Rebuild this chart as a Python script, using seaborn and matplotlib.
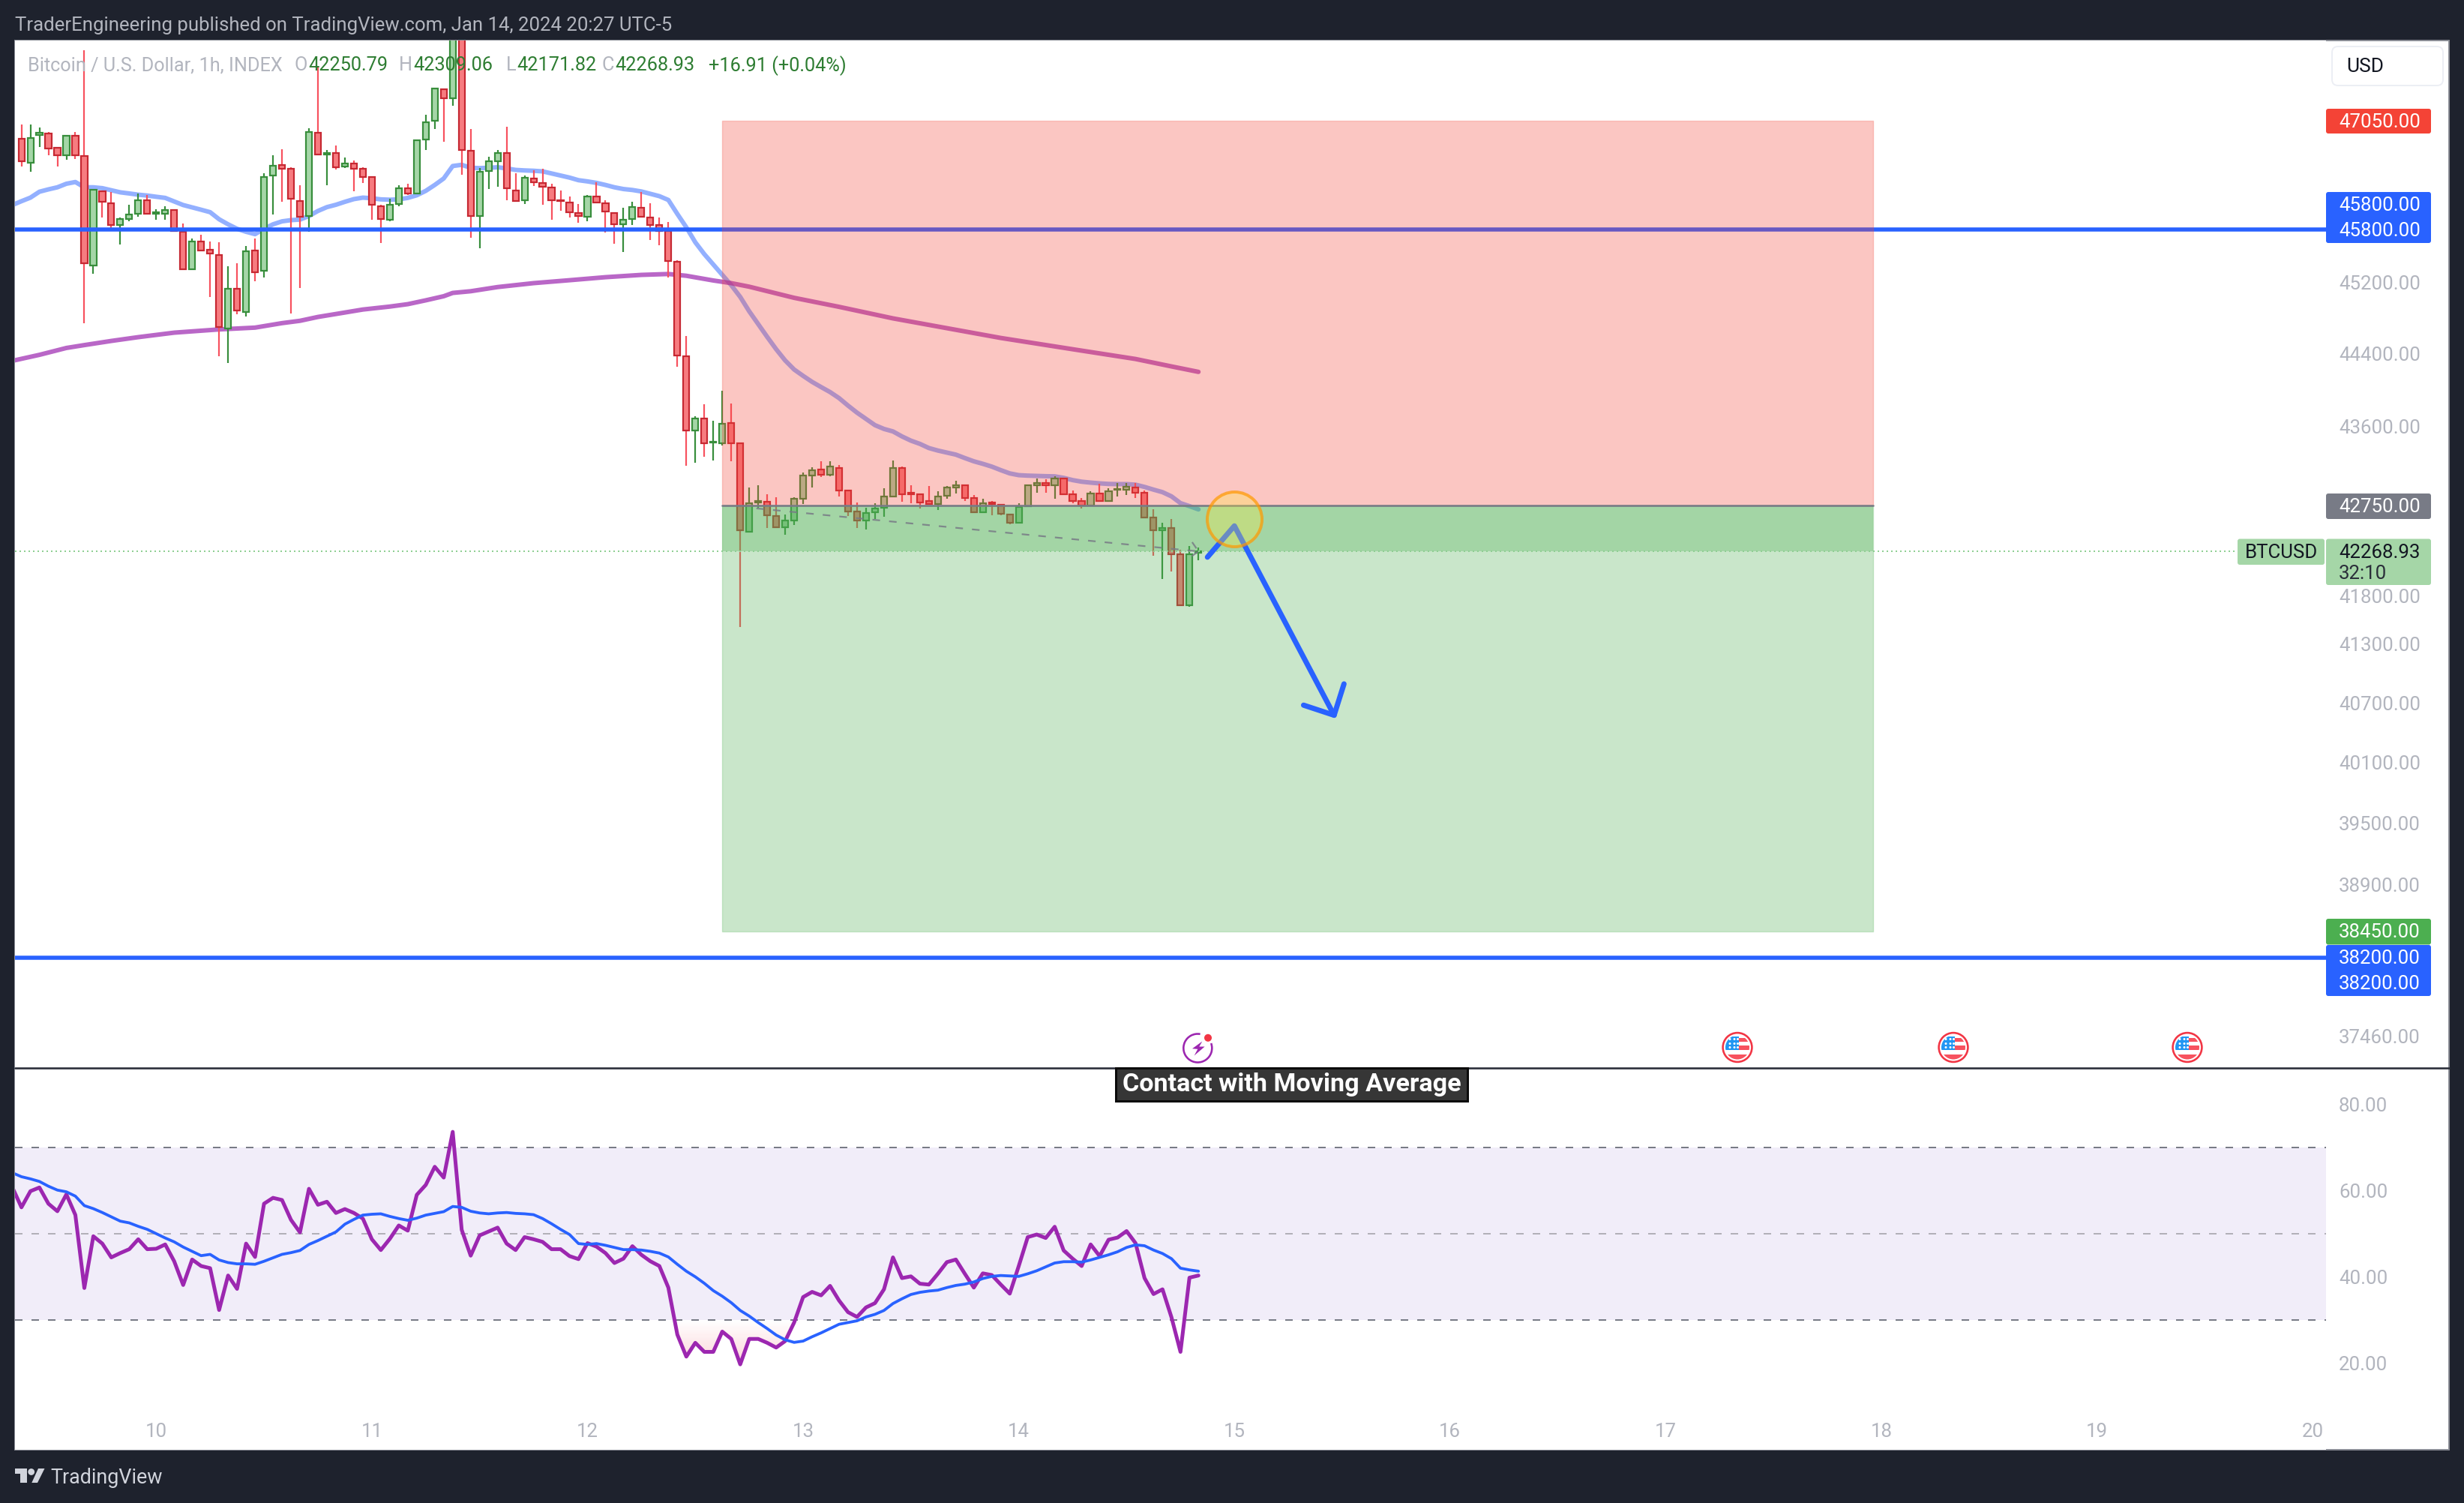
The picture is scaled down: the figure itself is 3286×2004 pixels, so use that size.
import numpy as np
import seaborn as sns
import matplotlib
matplotlib.use("Agg")
import matplotlib.pyplot as plt
from matplotlib.patches import Rectangle, Circle, Polygon, FancyBboxPatch, Arc
from matplotlib.transforms import Affine2D
from matplotlib.ticker import NullLocator

# ---------- data ----------
open_ = [46846,46568,46884,46908,46735,46648,46874,46645,45389,46236,
 46096,45850,45920,45977,46130,45977,45977,46015,45770,45348,
 45661,45567,45506,44684,45125,44868,45557,45325,46420,46536,
 46495,46124,45947,46915,46660,46678,46519,46553,46495,46399,
 46066,45906,46086,46270,46205,46832,47054,47426,47315,48200,
 46702,45947,46468,46585,46681,46243,46127,46385,46331,46277,
 46134,46107,45984,45940,46175,46096,45984,45855,45916,46049,
 45933,45848,45777,45429,44372,43555,43691,43431,43423,43644,
 43417,42475,42786,42789,42642,42518,42597,42821,43077,43134,
 43085,43158,42909,42690,42597,42677,42727,42845,43150,42885,
 42869,42797,42765,42853,42943,42970,42829,42677,42783,42757,
 42658,42571,42743,42970,42989,42970,43045,42869,42797,42751,
 42877,42802,42917,42917,42946,42885,42629,42486,42510,42240,
 41704,42250.79]
high = [47006,47006,46971,46919,46745,46884,46919,47891,46256,46246,
 46229,45933,46076,46212,46195,46025,46059,46025,45865,45691,
 45736,45661,45647,45382,45409,45610,45691,46444,46650,46719,
 46512,46307,46964,47687,46709,46763,46622,46588,46509,46405,
 46076,46151,46300,46321,46832,47120,47440,47429,48300,48350,
 46953,46502,46630,46709,46981,46440,46416,46475,46492,46321,
 46239,46171,46086,46192,46341,46134,45991,46049,46117,46229,
 46093,45933,45882,45443,44595,43712,43844,43663,43991,43855,
 43428,42943,42970,42871,42839,42655,42837,43109,43161,43226,
 43226,43185,42909,42783,42730,42775,42935,43234,43172,42967,
 42879,42959,42903,42959,43015,42975,42863,42823,42799,42765,
 42664,42775,42975,43040,43037,43064,43050,42911,42831,42903,
 42983,42935,42989,42989,42991,42909,42711,42568,42608,42280,
 42327,42309.06]
low = [46520,46461,46745,46652,46520,46596,46607,44740,45293,45933,
 45797,45627,45889,45940,45974,45906,45906,45770,45348,45348,
 45560,45030,44372,44300,44838,44815,45211,45248,45965,46117,
 44848,45131,45770,46660,46304,46485,46502,46236,46331,45906,
 45640,45892,46066,46195,46205,46710,46960,46806,47233,46423,
 45702,45583,46263,46287,46134,46117,46086,46297,46076,45906,
 46008,45930,45872,45889,46096,45763,45634,45540,45845,45940,
 45678,45614,45255,44257,43179,43212,43274,43234,43396,43225,
 41479,42464,42730,42515,42518,42444,42544,42770,42943,43058,
 43064,42850,42637,42512,42499,42610,42632,42837,42794,42775,
 42722,42770,42704,42823,42882,42802,42669,42672,42650,42650,
 42557,42571,42743,42890,42887,42823,42863,42775,42720,42751,
 42791,42802,42847,42863,42831,42629,42222,41978,42056,41704,
 41689,42171.82]
close = [46579,46856,46912,46728,46648,46874,46648,45409,46256,46110,
 45850,45916,45967,46127,45974,45991,46022,45777,45348,45661,
 45560,45520,44693,45125,44878,45547,45315,46399,46533,46498,
 46144,45940,46926,46660,46681,46516,46553,46498,46402,46076,
 45913,46079,46270,46212,46829,47037,47433,47315,48200,46709,
 45947,46461,46581,46681,46273,46124,46392,46334,46283,46127,
 46124,45994,45950,46175,46103,46001,45855,45909,46056,45940,
 45848,45780,45436,44378,43562,43693,43423,43441,43636,43423,
 42486,42778,42797,42645,42518,42597,42823,43077,43126,43085,
 43174,42909,42685,42597,42669,42717,42845,43150,42869,42874,
 42783,42770,42850,42948,42970,42829,42677,42773,42770,42661,
 42571,42735,42970,42989,42970,43045,42869,42797,42751,42877,
 42802,42901,42925,42951,42885,42629,42486,42510,42240,41704,
 42240,42268.93]

ema_fast = [46076,46120,46161,46229,46256,46280,46321,46341,46280,46280,46270,
 46246,46222,46209,46195,46185,46171,46158,46117,46076,46049,
 46022,45994,45913,45855,45804,45770,45743,45804,45855,45889,
 45903,45909,45950,46008,46052,46079,46113,46144,46161,46154,
 46141,46137,46141,46158,46188,46239,46307,46382,46526,46540,
 46505,46502,46505,46512,46498,46481,46475,46471,46464,46440,
 46416,46392,46362,46348,46331,46307,46280,46260,46249,46232,
 46205,46178,46134,45974,45821,45650,45516,45399,45281,45165,
 45033,44872,44730,44587,44450,44326,44226,44156,44090,44033,
 43978,43912,43830,43753,43685,43617,43576,43549,43495,43449,
 43414,43369,43342,43320,43298,43261,43226,43199,43169,43131,
 43096,43077,43072,43069,43066,43064,43048,43024,43007,42997,
 42989,42983,42981,42981,42975,42951,42922,42895,42850,42778,
 42746,42711]
ma_slow_bar = [-1,2,5,7,10,13,17,22,26,29,31,33,35,38,41,43,45,47,48,50,53,57,61,65,69,72,
 74,77,79,81,86,91,97,102,109,117,124,128,131]
ma_slow = [44322,44388,44464,44496,44542,44584,44634,44670,44690,44740,44766,44809,44842,
 44892,44925,44952,44995,45041,45078,45097,45144,45188,45221,45255,45281,45291,
 45271,45218,45188,45148,45023,44922,44793,44702,44575,44450,44342,44260,44200]

rsi = [60.7,56.1,59.85,60.7,56.95,55.2,59.1,54.34,37.4,49.4,47.7,
 44.5,45.5,46.4,48.7,46.4,46.5,47.5,43.6,38.1,44,
 42.5,42,32.3,40.3,37.2,47.7,44.6,56.95,58.3,57.8,
 53.2,50.3,60.4,56.7,57.4,54.8,55.7,54.8,53.5,48.7,
 46.2,48.8,51.9,50.7,59,61.3,65.5,63,73.6,50.9,
 44.9,49.6,50.5,51.4,47.7,46.2,49.2,48.7,48.1,46.4,
 46.4,44.8,44.1,47.8,47,45.5,43.2,44.2,47.1,45.1,
 43.6,42.5,37.5,26.6,21.5,24.7,22.6,22.6,27.3,25.6,
 19.7,25.6,25.6,24.7,23.6,25.1,29.4,35.3,36.5,35.7,
 37.9,34.5,31.8,30.7,32.9,33.9,37.1,44.5,39.7,40.1,
 38.4,38.2,40.7,43.4,44,40.7,37.5,40.8,40.4,38.2,
 36.1,42.5,49.2,49.8,49,51.6,46.1,44.2,42.5,47.5,
 44.8,48.6,49.1,50.6,47.8,39.7,36,37.1,30.6,22.6,
 39.8,40.3]
rsi_ma = [64.1,63.2,62.7,62.1,61,60.1,59.7,58.7,56.5,55.8,54.9,
 53.9,52.9,52.5,51.7,51,50,49,48.1,46.9,45.9,
 44.9,45.2,43.9,43.3,43,43,42.9,43.6,44.4,45.2,
 45.6,46.1,47.5,48.4,49.4,50.4,52.2,53.3,54.3,54.5,
 54.6,54,53.5,53.1,53.6,54.3,54.7,55.1,56.3,56.1,
 55.2,54.8,54.6,54.8,54.9,54.7,54.6,54.4,53.5,52.3,
 51,49.8,47.7,47.5,47.7,47.3,46.8,46.3,46.3,46.2,
 45.9,45.5,44.6,42.9,41.3,40,38.5,36.8,35.5,34,
 32.2,30.9,29.4,28,26.5,25.4,24.8,25.1,26.1,27,
 28,29,29.4,29.8,30.7,31.3,32.2,33.8,34.9,35.9,
 36.4,36.7,36.9,37.5,38,38.3,38.8,39.6,40.1,40.3,
 40.2,40.1,40.7,41.4,42.3,43.2,43.5,43.5,43.4,43.9,
 44.5,45.1,45.8,46.8,47.4,47.2,46.2,45.4,44.2,42,
 41.6,41.3]

price_ticks = [45200,44400,43600,41800,41300,40700,40100,39500,38900,37460]
price_labels = ["45200.00","44400.00","43600.00","41800.00","41300.00","40700.00",
                "40100.00","39500.00","38900.00","37460.00"]
rsi_ticks = [80,60,40,20]
rsi_labels = ["80.00","60.00","40.00","20.00"]
day_bars = [15,39,63,87,111,135,159,183,207,231,255]
day_labels = ["10","11","12","13","14","15","16","17","18","19","20"]

last_price = 42268.93
entry = 42750
stop = 47050
target = 38450
levels = [45800, 38200]
pos_start, pos_end = 78, 206.1
proj_bar = [81.8, 131]
proj_price = [42722, 42267]
proj_head_bar = [130.3, 131, 130.2]
proj_head_price = [42364, 42267, 42213]
arrow_bar = [132, 135, 146.1]
arrow_price = [42206, 42536, 40576]
head_bar = [142.7, 146.1, 147.2]
head_price = [40678, 40576, 40894]
circle_bar, circle_price = 135, 42610

# ---------- palette ----------
DARK = "#1e222d"
GREY = "#b2b5be"
BLUE = "#2962ff"
PURPLE = "#9c27b0"
UP_FILL, UP_EDGE = "#a5d6a7", "#388e3c"
DN_FILL, DN_EDGE, DN_WICK = "#f77c80", "#c62832", "#f7525f"

# ---------- theme and figure ----------
sns.set_theme(style="white")
plt.rcParams["font.family"] = ["Roboto", "DejaVu Sans"]
W, H = 3286, 2004
fig = plt.figure(figsize=(W / 100, H / 100), dpi=100, facecolor=DARK)
PX = Affine2D().scale(1, -1).translate(0, H)      # picture pixels, origin top left

def pt(px):
    return px * 0.72

fig.add_artist(Rectangle((20, 54), 3246, 1879, transform=PX, facecolor="white",
                         edgecolor="#8a8d96", lw=1.4, zorder=-1))

ax = fig.add_axes([20 / W, 1 - 1424 / H, 3082 / W, 1370 / H])
ax2 = fig.add_axes([20 / W, 1 - 1933 / H, 3082 / W, 509 / H])
for a in (ax, ax2):
    a.set_facecolor("white")
    a.grid(False)
    for s in a.spines.values():
        s.set_visible(False)

bars = np.arange(len(close))
o, h, l, c = map(np.array, (open_, high, low, close))
up = c >= o

# ---------- moving averages ----------
sns.lineplot(x=np.arange(-1, len(ema_fast) - 1), y=ema_fast, ax=ax, color=BLUE, alpha=0.5,
             linewidth=pt(6), errorbar=None, zorder=2)
sns.lineplot(x=ma_slow_bar, y=ma_slow, ax=ax, color=PURPLE, alpha=0.7,
             linewidth=pt(6), errorbar=None, zorder=2)

# ---------- candles ----------
ax.vlines(bars[up], l[up], h[up], colors=UP_EDGE, lw=pt(2.2), zorder=3)
ax.vlines(bars[~up], l[~up], h[~up], colors=DN_WICK, lw=pt(2.2), zorder=3)
body_lo = np.minimum(o, c)
body_hi = np.maximum(o, c)
ax.bar(bars[up], (body_hi - body_lo)[up], bottom=body_lo[up], width=0.68,
       facecolor=UP_FILL, edgecolor=UP_EDGE, lw=pt(2.2), zorder=3.1)
ax.bar(bars[~up], (body_hi - body_lo)[~up], bottom=body_lo[~up], width=0.68,
       facecolor=DN_FILL, edgecolor=DN_EDGE, lw=pt(2.2), zorder=3.1)

# ---------- horizontal levels, position box ----------
for v in levels:
    ax.axhline(v, color=BLUE, lw=pt(5.5), zorder=3.5)
ax.fill_between([pos_start, pos_end], entry, stop, facecolor=(244/255, 67/255, 54/255, 0.3),
                edgecolor=(244/255, 67/255, 54/255, 0.25), lw=1, zorder=4)
ax.fill_between([pos_start, pos_end], target, entry, facecolor=(76/255, 175/255, 80/255, 0.3),
                edgecolor=(76/255, 175/255, 80/255, 0.25), lw=1, zorder=4)
ax.fill_between([pos_start, pos_end], last_price, entry, facecolor=(76/255, 175/255, 80/255, 0.3),
                lw=0, zorder=4)
ax.plot([pos_start, pos_end], [entry, entry], color="#787b86", lw=pt(2.6), zorder=4.5)
ax.axhline(last_price, color="#8fcf93", lw=pt(2), ls=(0, (1, 2)), zorder=4.4)
ax.plot(proj_bar, [proj_price[0], proj_price[1]], color="#787b86", lw=pt(2.2),
        ls=(0, (4.6, 5.5)), alpha=0.85, zorder=4.6)
ax.plot(proj_head_bar, proj_head_price, color="#787b86", lw=pt(2.2),
        ls=(0, (4.6, 2.5)), alpha=0.85, zorder=4.6)

# ---------- hand-drawn arrow and circle ----------
ax.plot(arrow_bar, arrow_price, color=BLUE, lw=pt(7), solid_capstyle="round",
        solid_joinstyle="round", zorder=5)
ax.plot(head_bar, head_price, color=BLUE, lw=pt(7), solid_capstyle="round",
        solid_joinstyle="round", zorder=5)
ax.scatter([circle_bar], [circle_price], s=pt(73) ** 2, zorder=6,
           facecolor=(1, 235/255, 59/255, 0.3), edgecolor=(1, 152/255, 0, 0.7), linewidth=pt(4))

# ---------- main axis ----------
ax.set_yscale("log")
ax.set_xlim(-0.718, 256.5)
ax.set_ylim(37162, 48004)
ax.set_xticks([])
ax.yaxis.tick_right()
ax.yaxis.set_minor_locator(NullLocator())
ax.set_yticks(price_ticks, labels=price_labels)
ax.yaxis.set_minor_locator(NullLocator())
ax.tick_params(axis="y", which="both", length=0, pad=pt(17), labelsize=18.6, labelcolor=GREY)
ax.set_xlabel("")
ax.set_ylabel("")

# ---------- RSI pane ----------
ax2.axhspan(30, 70, xmin=0, xmax=1, facecolor="#f1edf9", lw=0, zorder=1)
for v, col in ((70, "#787b86"), (50, "#b2b0b8"), (30, "#787b86")):
    ax2.axhline(v, color=col, lw=pt(2), ls=(0, (5, 6)), zorder=1.5)
xr = np.arange(-1, len(rsi) - 1)
rsi_arr = np.array(rsi)
poly = ax2.fill_between(xr, rsi_arr, 30, where=(rsi_arr < 30) & (xr < 90), interpolate=True,
                        facecolor="none", lw=0)
grad = np.zeros((32, 2, 4))
grad[..., 0] = 242 / 255
grad[..., 1] = 54 / 255
grad[..., 2] = 69 / 255
grad[..., 3] = np.linspace(0.22, 0, 32)[:, None]
im = ax2.imshow(grad, extent=(70, 90, 19, 30), origin="lower", aspect="auto", zorder=1.2)
im.set_clip_path(poly.get_paths()[0], transform=ax2.transData)
sns.lineplot(x=xr, y=rsi, ax=ax2, color=PURPLE, linewidth=pt(5), errorbar=None, zorder=2)
sns.lineplot(x=xr, y=rsi_ma, ax=ax2, color=BLUE, linewidth=pt(3.8), errorbar=None, zorder=3)
ax2.set_xlim(-0.718, 256.5)
ax2.set_ylim(-0.09, 88.4)
ax2.yaxis.tick_right()
ax2.set_yticks(rsi_ticks, labels=rsi_labels)
ax2.set_xticks(day_bars, labels=day_labels)
ax2.tick_params(axis="y", length=0, pad=pt(17), labelsize=18.6, labelcolor=GREY)
ax2.tick_params(axis="x", length=0, pad=-pt(36), labelsize=18.6, labelcolor=GREY)
ax2.set_xlabel("")
ax2.set_ylabel("")

# ---------- separator and note ----------
fig.add_artist(plt.Line2D([20, 3266], [1424, 1424], transform=PX, color="#2a2e39", lw=pt(2.6), zorder=3))
fig.add_artist(Rectangle((1488, 1424), 469, 44, transform=PX, facecolor="#363636",
                         edgecolor="#0b0b0b", lw=pt(3), zorder=4))
fig.text(1722.5, 1446, "Contact with Moving Average", transform=PX, color="white", fontsize=24.6,
         fontweight="bold", ha="center", va="center", zorder=5)

# ---------- header, legend, footer ----------
fig.text(20, 33.5, "TraderEngineering published on TradingView.com, Jan 14, 2024 20:27 UTC-5",
         transform=PX, color=GREY, fontsize=18.5, va="center")
legend_items = [(37, "Bitcoin / U.S. Dollar, 1h, INDEX", GREY), (392, "O", GREY), (411, "42250.79", "#2e7d32"),
                (532, "H", GREY), (551, "42309.06", "#2e7d32"), (675, "L", GREY), (689, "42171.82", "#2e7d32"),
                (803, "C", GREY), (820, "42268.93", "#2e7d32"), (945, "+16.91 (+0.04%)", "#2e7d32")]
for x0, s, col in legend_items:
    fig.text(x0, 87.5, s, transform=PX, color=col, fontsize=18.2, va="center", zorder=6)

fig.add_artist(Polygon([(20, 1958), (36, 1958), (36, 1977), (27, 1977), (27, 1965), (20, 1965)],
                       transform=PX, facecolor="#d1d4dc", lw=0, zorder=3))
fig.add_artist(Circle((41.7, 1962.5), 4.4, transform=PX, facecolor="#d1d4dc", lw=0, zorder=3))
fig.add_artist(Polygon([(51, 1958), (59.5, 1958), (50, 1977), (42.3, 1977)], transform=PX,
                       facecolor="#d1d4dc", lw=0, zorder=3))
fig.text(67, 1970.5, "TradingView", transform=PX, color="#d1d4dc", fontsize=19.4, va="center", zorder=3)

# ---------- currency button ----------
fig.add_artist(FancyBboxPatch((3110, 62), 148, 52, boxstyle="round,pad=0,rounding_size=8", transform=PX,
                              facecolor="white", edgecolor="#eceef4", lw=1.4, zorder=3))
fig.text(3129, 88.5, "USD", transform=PX, color="#131722", fontsize=19, va="center", zorder=4)

# ---------- price badges ----------
def badge(x0, y0, x1, y1, col):
    fig.add_artist(FancyBboxPatch((x0, y0), x1 - x0, y1 - y0, boxstyle="round,pad=0,rounding_size=3",
                                  transform=PX, facecolor=col, lw=0, zorder=4))

def badge_text(x0, y, s, col="white", ha="left", size=18.6):
    fig.text(x0, y + 1.5, s, transform=PX, color=col, fontsize=size, va="center", ha=ha, zorder=5)

badge(3102, 145, 3242, 178, "#f44336")
badge_text(3119, 161.5, "47050.00")
badge(3102, 256, 3242, 324, BLUE)
badge_text(3119, 272.5, "45800.00")
badge_text(3119, 306.5, "45800.00")
badge(3102, 658, 3242, 692, "#787b86")
badge_text(3119, 674.5, "42750.00")
badge(2984, 718.5, 3100, 753, UP_FILL)
badge_text(3042, 735.5, "BTCUSD", col="#131722", ha="center")
badge(3102, 718.5, 3242, 780, UP_FILL)
badge_text(3119, 735.5, "42268.93", col="#131722")
badge_text(3119, 763, "32:10", col="#2a2e39")
badge(3102, 1225, 3242, 1259.5, "#4caf50")
badge_text(3119, 1241.5, "38450.00")
badge(3102, 1260, 3242, 1328, BLUE)
badge_text(3119, 1276.5, "38200.00")
badge_text(3119, 1310.5, "38200.00")

# ---------- event markers ----------
def bolt(cx, cy):
    fig.add_artist(Arc((cx, cy), 38, 38, theta1=-20, theta2=280, transform=PX, color=PURPLE, lw=pt(2.6), zorder=3))
    fig.add_artist(Circle((cx + 13.7, cy - 13.7), 5, transform=PX, facecolor="#f23645", lw=0, zorder=3))
    pts = [(6, -9), (-7.3, 0.7), (0, 1.3), (-4.7, 10), (9.3, -2), (2, -2)]
    fig.add_artist(Polygon([(cx + a, cy + b) for a, b in pts], transform=PX, facecolor=PURPLE, lw=0, zorder=3))

def flag(cx, cy):
    ring = Circle((cx, cy), 19.4, transform=PX, facecolor="white", edgecolor="#f23645", lw=pt(2.6), zorder=3)
    fig.add_artist(ring)
    clip = Circle((cx, cy), 16, transform=PX)
    parts = [((-16, -15), 18, 18, "#2196f3"), ((2, -13), 14, 5, "#f7525f"), ((2, -3), 14, 6, "#f7525f"),
             ((-16, 9), 32, 9, "#f7525f")]
    for (dx, dy), w, ht, col in parts:
        r = Rectangle((cx + dx, cy + dy), w, ht, transform=PX, facecolor=col, lw=0, zorder=3.1)
        fig.add_artist(r)
        r.set_clip_path(clip)
    for dx in (-9.5, -3.5, 0.0 - 1 + 2):
        for dy in (-11, -5, 0):
            fig.add_artist(Circle((cx + dx - 0.5, cy + dy), 1.5, transform=PX, facecolor="white", lw=0, zorder=3.2))

bolt(1597.3, 1397.5)
for fx in (2317, 2605, 2917):
    flag(fx, 1396.5)

fig.savefig("out.png", dpi=100, facecolor=fig.get_facecolor())
